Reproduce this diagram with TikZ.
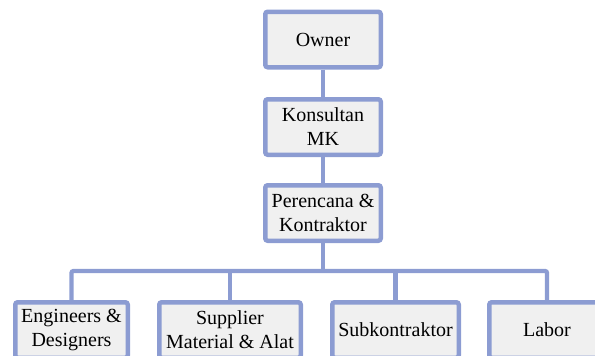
\documentclass[tikz,border=0pt]{standalone}
\usepackage{fontspec}
\setmainfont{Liberation Serif}
\usetikzlibrary{backgrounds}
\definecolor{boxline}{RGB}{140,156,210}
\definecolor{boxfill}{RGB}{240,240,240}
\tikzset{
  orgbox/.style={draw=boxline, fill=boxfill, line width=4.5pt, rounded corners=2.5pt,
    inner sep=0pt, align=center, minimum height=55.5pt,
    font=\fontsize{20}{24}\selectfont},
  link/.style={draw=boxline, line width=4.3pt, rounded corners=2pt}
}
\begin{document}
\begin{tikzpicture}[x=1pt,y=-1pt]
\useasboundingbox (0,0) rectangle (595,356);
% management chain
\node[orgbox, minimum width=115.5pt] (own) at (323,39.5) {Owner};
\node[orgbox, minimum width=115.5pt] (mk)  at (323,127) {Konsultan\\MK};
\node[orgbox, minimum width=115.5pt] (pk)  at (323,213) {Perencana \&\\Kontraktor};
% field level
\node[orgbox, minimum width=112.5pt] (eng) at (71.5,330) {Engineers \&\\Designers};
\node[orgbox, minimum width=141.5pt] (sup) at (230,330) {Supplier\\Material \& Alat};
\node[orgbox, minimum width=126.5pt] (sub) at (395.5,330) {Subkontraktor};
\node[orgbox, minimum width=115.5pt] (lab) at (547,330) {Labor};
\begin{scope}[on background layer]
  \draw[link] (own) -- (mk);
  \draw[link] (mk) -- (pk);
  \path (eng.north) ++(0,-29) coordinate (busL);
  \draw[link] (eng.north) -- (busL) -| (lab.north);
  \draw[link] (pk.south) -- (pk.south |- busL);
  \draw[link] (sup.north) -- (sup.north |- busL);
  \draw[link] (sub.north) -- (sub.north |- busL);
\end{scope}
\end{tikzpicture}
\end{document}
